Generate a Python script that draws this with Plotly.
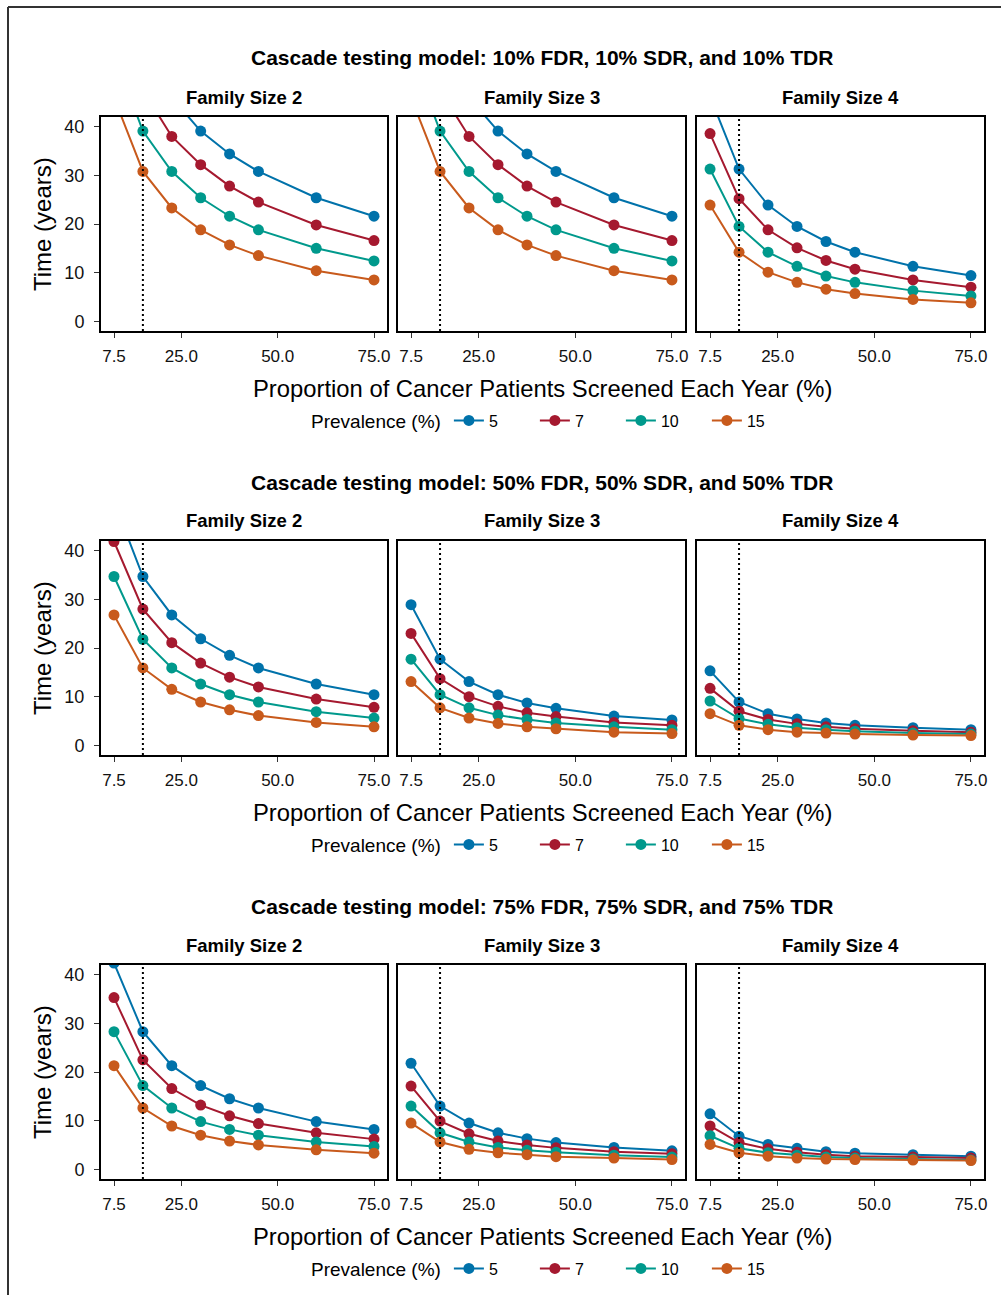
import plotly.graph_objects as go

# ---------------- data ----------------
x_pct = [7.5, 15, 22.5, 30, 37.5, 45, 60, 75]
prevalence = ["5", "7", "10", "15"]
x_tickvals = [7.5, 25, 50, 75]
x_ticktext = ["7.5", "25.0", "50.0", "75.0"]
y_tickvals = [0, 10, 20, 30, 40]
family_sizes = ["Family Size 2", "Family Size 3", "Family Size 4"]
row_titles = [
    "Cascade testing model: 10% FDR, 10% SDR, and 10% TDR",
    "Cascade testing model: 50% FDR, 50% SDR, and 50% TDR",
    "Cascade testing model: 75% FDR, 75% SDR, and 75% TDR",
]

# rows: prevalence 5, 7, 10, 15 ; columns: x_pct
fdr10_fs2 = [
    [75.0, 55.0, 46.0, 39.1, 34.4, 30.8, 25.4, 21.6],
    [66.0, 47.5, 38.0, 32.2, 27.8, 24.5, 19.8, 16.6],
    [55.0, 39.1, 30.8, 25.4, 21.6, 18.8, 15.0, 12.4],
    [46.0, 30.8, 23.3, 18.8, 15.7, 13.5, 10.4, 8.5],
]
fdr10_fs3 = [
    [75.0, 55.0, 46.0, 39.1, 34.4, 30.8, 25.4, 21.6],
    [66.0, 47.5, 38.0, 32.2, 27.8, 24.5, 19.8, 16.6],
    [55.0, 39.1, 30.8, 25.4, 21.6, 18.8, 15.0, 12.4],
    [46.0, 30.8, 23.3, 18.8, 15.7, 13.5, 10.4, 8.5],
]
fdr10_fs4 = [
    [46.2, 31.3, 23.9, 19.5, 16.4, 14.2, 11.3, 9.4],
    [38.6, 25.2, 18.8, 15.1, 12.5, 10.7, 8.5, 7.0],
    [31.3, 19.5, 14.2, 11.3, 9.3, 8.0, 6.3, 5.2],
    [23.9, 14.2, 10.1, 8.0, 6.6, 5.7, 4.5, 3.8],
]
fdr50_fs2 = [
    [50.1, 34.7, 26.8, 21.9, 18.5, 15.9, 12.6, 10.4],
    [41.9, 28.0, 21.1, 16.9, 14.0, 12.0, 9.5, 7.8],
    [34.7, 21.8, 15.9, 12.6, 10.4, 8.9, 6.9, 5.6],
    [26.8, 15.9, 11.5, 8.9, 7.3, 6.1, 4.7, 3.8],
]
fdr50_fs3 = [
    [28.9, 17.7, 13.1, 10.4, 8.7, 7.6, 6.0, 5.2],
    [23.0, 13.7, 10.0, 8.0, 6.7, 5.9, 4.7, 4.1],
    [17.7, 10.4, 7.7, 6.2, 5.3, 4.6, 3.8, 3.2],
    [13.1, 7.7, 5.6, 4.5, 3.8, 3.4, 2.7, 2.4],
]
fdr50_fs4 = [
    [15.3, 8.9, 6.5, 5.4, 4.6, 4.1, 3.6, 3.2],
    [11.7, 7.0, 5.3, 4.4, 3.8, 3.4, 3.0, 2.7],
    [9.1, 5.5, 4.3, 3.6, 3.2, 2.9, 2.5, 2.3],
    [6.5, 4.1, 3.2, 2.7, 2.5, 2.3, 2.1, 2.0],
]
fdr75_fs2 = [
    [42.4, 28.3, 21.3, 17.2, 14.5, 12.6, 9.8, 8.2],
    [35.3, 22.5, 16.6, 13.2, 11.0, 9.4, 7.5, 6.2],
    [28.3, 17.2, 12.6, 9.8, 8.2, 7.0, 5.6, 4.7],
    [21.3, 12.6, 8.9, 7.0, 5.8, 5.0, 4.0, 3.3],
]
fdr75_fs3 = [
    [21.8, 13.0, 9.5, 7.5, 6.3, 5.5, 4.5, 3.8],
    [17.1, 9.9, 7.3, 5.8, 5.0, 4.4, 3.6, 3.2],
    [13.0, 7.5, 5.6, 4.5, 3.9, 3.5, 2.9, 2.5],
    [9.5, 5.6, 4.1, 3.4, 3.0, 2.6, 2.3, 2.0],
]
fdr75_fs4 = [
    [11.4, 6.8, 5.1, 4.3, 3.6, 3.3, 3.0, 2.7],
    [8.9, 5.5, 4.2, 3.5, 3.0, 2.7, 2.5, 2.3],
    [6.9, 4.3, 3.4, 2.9, 2.5, 2.3, 2.1, 1.9],
    [5.1, 3.4, 2.7, 2.3, 2.1, 2.0, 1.9, 1.8],
]
screen_ref = 15  # dotted reference line

panels = [
    [fdr10_fs2, fdr10_fs3, fdr10_fs4],
    [fdr50_fs2, fdr50_fs3, fdr50_fs4],
    [fdr75_fs2, fdr75_fs3, fdr75_fs4],
]

# ---------------- style ----------------
colors = ["#0072AA", "#A5192F", "#00998C", "#C85A1C"]
FONT = "Liberation Sans, Arial, Helvetica, sans-serif"
W, H = 1001, 1295
panel_x = [(101, 387), (398, 685), (697, 984)]
row_y = [(117, 331), (541, 755), (965, 1179)]


def fx(px):
    return px / W


def fy(py):
    return 1 - py / H


fig = go.Figure()
layout = {}
annotations = []
shapes = []

for r in range(3):
    y0, y1 = row_y[r]
    legname = "legend" if r == 0 else f"legend{r + 1}"
    for c in range(3):
        n = r * 3 + c + 1
        x0, x1 = panel_x[c]
        xa = "x" if n == 1 else f"x{n}"
        ya = "y" if n == 1 else f"y{n}"
        for k, prev in enumerate(prevalence):
            fig.add_trace(go.Scatter(
                x=x_pct, y=panels[r][c][k], mode="lines+markers",
                name=prev, line=dict(color=colors[k], width=2),
                marker=dict(color=colors[k], size=11),
                xaxis=xa, yaxis=ya, showlegend=(c == 0), legend=legname,
                cliponaxis=True,
            ))
        layout["xaxis" if n == 1 else f"xaxis{n}"] = dict(
            domain=[fx(x0), fx(x1)], anchor=ya, range=[4.125, 78.375],
            tickvals=x_tickvals, ticktext=x_ticktext, ticks="outside",
            ticklen=5, tickwidth=1, tickcolor="#333", ticklabelstandoff=4,
            showline=True, linewidth=2, linecolor="black", mirror=True,
            showgrid=False, zeroline=False, automargin=False,
            tickfont=dict(family=FONT, size=17, color="#111"),
        )
        layout["yaxis" if n == 1 else f"yaxis{n}"] = dict(
            domain=[fy(y1), fy(y0)], anchor=xa, range=[-2, 42],
            tickvals=y_tickvals, ticks="outside" if c == 0 else "",
            showticklabels=(c == 0), ticklen=5, tickwidth=1, tickcolor="#333",
            ticklabelstandoff=6, automargin=False,
            showline=True, linewidth=2, linecolor="black", mirror=True,
            showgrid=False, zeroline=False,
            tickfont=dict(family=FONT, size=18, color="#111"),
        )
        shapes.append(dict(
            type="line", xref=xa, yref=f"{ya} domain", x0=screen_ref, x1=screen_ref,
            y0=0, y1=1, line=dict(color="black", width=2, dash="2px,3px"), layer="above",
        ))
        annotations.append(dict(
            text=f"<b>{family_sizes[c]}</b>", x=fx((x0 + x1) / 2), y=fy(y0 - 20),
            xref="paper", yref="paper", showarrow=False, xanchor="center", yanchor="middle",
            font=dict(family=FONT, size=18.5, color="black"),
        ))
    annotations.append(dict(
        text=f"<b>{row_titles[r]}</b>", x=fx(542), y=fy(y0 - 59),
        xref="paper", yref="paper", showarrow=False, xanchor="center", yanchor="middle",
        font=dict(family=FONT, size=21, color="black"),
    ))
    annotations.append(dict(
        text="Proportion of Cancer Patients Screened Each Year (%)", x=fx(542), y=fy(y1 + 57),
        xref="paper", yref="paper", showarrow=False, xanchor="center", yanchor="middle",
        font=dict(family=FONT, size=23.8, color="black"),
    ))
    annotations.append(dict(
        text="Time (years)", x=fx(42), y=fy((y0 + y1) / 2), textangle=-90,
        xref="paper", yref="paper", showarrow=False, xanchor="center", yanchor="middle",
        font=dict(family=FONT, size=24, color="black"),
    ))
    layout[legname] = dict(
        orientation="h", x=fx(309), y=fy(y1 + 90), xanchor="left", yanchor="middle",
        title=dict(text="Prevalence (%)", side="left", font=dict(family=FONT, size=19, color="black")),
        font=dict(family=FONT, size=16, color="black"), bgcolor="rgba(0,0,0,0)",
        itemwidth=30, entrywidth=41,
    )

# outer border (top & left)
shapes.append(dict(type="line", xref="paper", yref="paper", x0=fx(8), x1=1, y0=fy(7), y1=fy(7),
                   line=dict(color="#333", width=2)))
shapes.append(dict(type="line", xref="paper", yref="paper", x0=fx(8), x1=fx(8), y0=fy(7), y1=0,
                   line=dict(color="#333", width=2)))

fig.update_layout(
    width=W, height=H, margin=dict(l=0, r=0, t=0, b=0, pad=0),
    paper_bgcolor="white", plot_bgcolor="white",
    annotations=annotations, shapes=shapes, **layout,
)

post = (
    "document.body.style.margin='0';"
    "document.body.style.overflow='hidden';"
    "document.documentElement.style.overflow='hidden';"
    "var gd=document.getElementById('{plot_id}');"
    "gd.style.height='1295px';gd.style.overflow='hidden';"
    "if(gd.parentElement){gd.parentElement.style.height='1295px';gd.parentElement.style.overflow='hidden';}"
)
fig.write_html("out.html", config={"displayModeBar": False}, post_script=post)
